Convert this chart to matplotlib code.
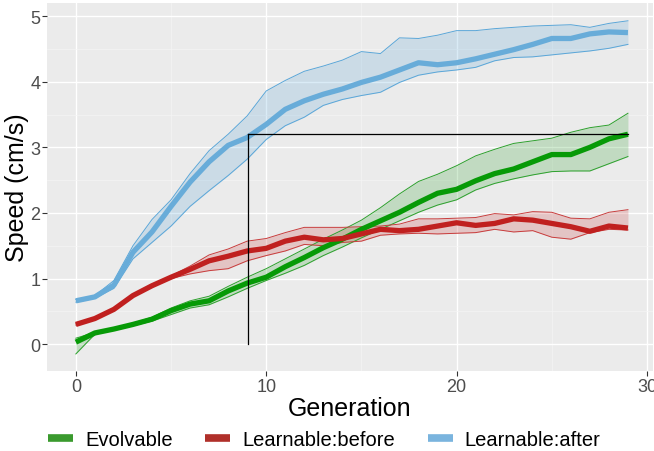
import numpy as np
import matplotlib
matplotlib.use("Agg")
import matplotlib.pyplot as plt
import matplotlib.lines as mlines

plt.rcParams['font.family'] = ['Liberation Sans', 'DejaVu Sans']

gen = np.arange(30)

evo_mean = [0.03, 0.17, 0.23, 0.30, 0.38, 0.51, 0.61, 0.66, 0.81, 0.93,
            1.02, 1.18, 1.32, 1.47, 1.60, 1.75, 1.88, 2.01, 2.16, 2.30,
            2.36, 2.49, 2.60, 2.67, 2.78, 2.89, 2.89, 3.00, 3.13, 3.20]
evo_hi = [0.09, 0.18, 0.24, 0.32, 0.41, 0.55, 0.66, 0.73, 0.88, 1.02,
          1.15, 1.30, 1.45, 1.60, 1.74, 1.89, 2.08, 2.29, 2.48, 2.59,
          2.72, 2.87, 2.97, 3.06, 3.10, 3.14, 3.23, 3.30, 3.34, 3.52]
evo_lo = [-0.15, 0.15, 0.21, 0.28, 0.35, 0.45, 0.55, 0.60, 0.72, 0.85,
          0.97, 1.08, 1.20, 1.35, 1.48, 1.62, 1.75, 1.88, 2.01, 2.12,
          2.20, 2.35, 2.45, 2.52, 2.58, 2.63, 2.64, 2.64, 2.75, 2.86]

before_mean = [0.30, 0.39, 0.53, 0.74, 0.89, 1.02, 1.14, 1.27, 1.34, 1.42,
               1.46, 1.57, 1.63, 1.59, 1.61, 1.68, 1.75, 1.73, 1.75, 1.80,
               1.85, 1.81, 1.84, 1.91, 1.89, 1.84, 1.79, 1.72, 1.80, 1.77]
before_hi = [0.31, 0.40, 0.55, 0.76, 0.91, 1.04, 1.19, 1.36, 1.45, 1.57,
             1.61, 1.70, 1.78, 1.78, 1.78, 1.79, 1.80, 1.83, 1.91, 1.91,
             1.92, 1.93, 1.99, 1.97, 2.02, 2.01, 1.92, 1.91, 2.01, 2.05]
before_lo = [0.29, 0.38, 0.51, 0.72, 0.87, 1.00, 1.07, 1.12, 1.15, 1.27,
             1.35, 1.42, 1.52, 1.50, 1.55, 1.57, 1.66, 1.68, 1.69, 1.68,
             1.69, 1.70, 1.75, 1.71, 1.73, 1.63, 1.60, 1.70, 1.75, 1.74]

after_mean = [0.66, 0.72, 0.90, 1.40, 1.71, 2.10, 2.47, 2.78, 3.03, 3.15,
              3.35, 3.58, 3.71, 3.81, 3.89, 3.99, 4.07, 4.18, 4.29, 4.26,
              4.29, 4.35, 4.42, 4.49, 4.57, 4.66, 4.66, 4.73, 4.76, 4.75]
after_hi = [0.68, 0.74, 0.97, 1.50, 1.90, 2.20, 2.60, 2.95, 3.20, 3.48,
            3.86, 4.02, 4.16, 4.24, 4.33, 4.46, 4.43, 4.67, 4.66, 4.71,
            4.78, 4.78, 4.81, 4.83, 4.85, 4.86, 4.87, 4.83, 4.89, 4.93]
after_lo = [0.64, 0.70, 0.85, 1.30, 1.55, 1.80, 2.10, 2.34, 2.57, 2.82,
            3.12, 3.33, 3.46, 3.64, 3.73, 3.79, 3.84, 3.99, 4.10, 4.15,
            4.18, 4.22, 4.32, 4.37, 4.38, 4.41, 4.44, 4.47, 4.51, 4.57]

# guide lines
mark_gen = 9.05
mark_speed = 3.2

series = [
    ("Evolvable", evo_mean, evo_lo, evo_hi, "#079a07", "#2ca02c"),
    ("Learnable:before", before_mean, before_lo, before_hi, "#c0201f", "#c83c3c"),
    ("Learnable:after", after_mean, after_lo, after_hi, "#68acd9", "#5aa6d8"),
]
legend_cols = ["#3a9a2e", "#b0302a", "#7ab4de"]

fig, ax = plt.subplots(figsize=(6.54, 4.52), dpi=100)
fig.subplots_adjust(left=0.072, right=0.998, top=0.991, bottom=0.177)
ax.set_facecolor("#EBEBEB")

for name, m, lo, hi, lc, bc in series:
    ax.fill_between(gen, lo, hi, color=bc, alpha=0.22, lw=0, zorder=2)
    ax.plot(gen, lo, color=bc, lw=0.7, zorder=3)
    ax.plot(gen, hi, color=bc, lw=0.7, zorder=3)
    ax.plot(gen, m, color=lc, lw=3.8, zorder=4, solid_capstyle="butt")

ax.plot([mark_gen, mark_gen], [0, mark_speed], color="black", lw=0.9, zorder=5)
ax.plot([mark_gen, gen[-1]], [mark_speed, mark_speed], color="black", lw=0.9, zorder=5)

ax.set_xlim(-1.51, 30.3)
ax.set_ylim(-0.41, 5.2)
ax.set_xticks([0, 10, 20, 30])
ax.set_yticks([0, 1, 2, 3, 4, 5])
ax.set_xticks([5, 15, 25], minor=True)
ax.set_yticks([0.5, 1.5, 2.5, 3.5, 4.5], minor=True)
ax.grid(which="major", color="white", lw=1.0)
ax.grid(which="minor", color="#F5F5F5", lw=0.5)
ax.set_axisbelow(True)
for s in ax.spines.values():
    s.set_visible(False)
ax.tick_params(which="major", colors="#333333", labelcolor="#4D4D4D",
               labelsize=13, length=3.5, width=0.8, pad=1.5)
ax.tick_params(which="minor", length=0)

ax.set_xlabel("Generation", fontsize=18, labelpad=1)
ax.set_ylabel("Speed (cm/s)", fontsize=18, labelpad=1)

handles = [mlines.Line2D([], [], color=c, lw=5.5, solid_capstyle="butt")
           for c in legend_cols]
fig.legend(handles, [s[0] for s in series], loc="center left",
           bbox_to_anchor=(0.046, 0.026), ncol=3, frameon=False,
           fontsize=14.5, handlelength=1.25, columnspacing=1.6,
           handletextpad=0.6)

fig.savefig("out.png", dpi=100)
